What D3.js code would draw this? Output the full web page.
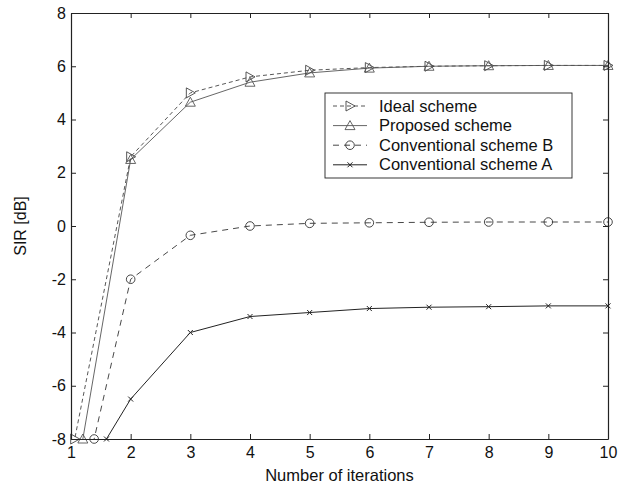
<!DOCTYPE html>
<html>
<head>
<meta charset="utf-8">
<script src="https://cdn.jsdelivr.net/npm/d3@7/dist/d3.min.js"></script>
<style>
body { margin:0; background:#fff; }
text { font-family:"Liberation Sans", Arial, sans-serif; fill:#111; }
</style>
</head>
<body>
<svg id="chart"></svg>
<script>
// iterations on the x axis
var iterations = [1,2,3,4,5,6,7,8,9,10];
// SIR values (first iteration falls below the axis)
var idealScheme = [-8.7, 2.6, 5.0, 5.6, 5.85, 5.95, 6.0, 6.02, 6.03, 6.03];
var proposedScheme = [-10.6, 2.5, 4.65, 5.4, 5.75, 5.93, 6.0, 6.02, 6.03, 6.03];
var conventionalB = [-11.8, -2.0, -0.35, 0.0, 0.1, 0.12, 0.14, 0.15, 0.15, 0.15];
var conventionalA = [-10.2, -6.5, -4.0, -3.4, -3.25, -3.1, -3.05, -3.03, -3.0, -3.0];
var xTicks = [1,2,3,4,5,6,7,8,9,10];
var yTicks = [-8,-6,-4,-2,0,2,4,6,8];
var legendNames = ["Ideal scheme","Proposed scheme","Conventional scheme B","Conventional scheme A"];

var screen = {width:638, height:488};
var margins = {top:13, bottom:49, left:71, right:30};
var graph = {
    width:screen.width-margins.left-margins.right,
    height:screen.height-margins.top-margins.bottom
};

//each series gets its own look
var series = [
    {name:legendNames[0], values:idealScheme, dash:"4,3", marker:"right", color:"#444", width:0.9},
    {name:legendNames[1], values:proposedScheme, dash:null, marker:"up", color:"#555", width:0.9},
    {name:legendNames[2], values:conventionalB, dash:"6,5", marker:"circle", color:"#333", width:0.9},
    {name:legendNames[3], values:conventionalA, dash:null, marker:"x", color:"#222", width:1}
];

var svg = d3.select("#chart")
    .attr("width",screen.width)
    .attr("height",screen.height);

var xScale = d3.scaleLinear().domain([1,10]).range([0,graph.width]);
var yScale = d3.scaleLinear().domain([-8,8]).range([graph.height,0]);

var g = svg.append("g")
    .attr("transform","translate("+margins.left+","+margins.top+")");

g.append("clipPath").attr("id","clip")
    .append("rect")
    .attr("width",graph.width)
    .attr("height",graph.height);

//draws a marker shape at a point
var drawMarker = function(sel, type, x, y, color)
{
    if (type == "right")
    {
        sel.append("path")
            .attr("d","M"+(x-4)+","+(y-5)+"L"+(x+5)+","+y+"L"+(x-4)+","+(y+5)+"Z")
            .attr("fill","none").attr("stroke",color).attr("stroke-width",0.9);
    }
    if (type == "up")
    {
        sel.append("path")
            .attr("d","M"+x+","+(y-5)+"L"+(x+5)+","+(y+4)+"L"+(x-5)+","+(y+4)+"Z")
            .attr("fill","none").attr("stroke",color).attr("stroke-width",0.9);
    }
    if (type == "circle")
    {
        sel.append("circle")
            .attr("cx",x).attr("cy",y).attr("r",4.3)
            .attr("fill","none").attr("stroke",color).attr("stroke-width",0.9);
    }
    if (type == "x")
    {
        sel.append("path")
            .attr("d","M"+(x-2.5)+","+(y-2.5)+"L"+(x+2.5)+","+(y+2.5)+"M"+(x-2.5)+","+(y+2.5)+"L"+(x+2.5)+","+(y-2.5))
            .attr("fill","none").attr("stroke",color).attr("stroke-width",1);
    }
}

//points that fall below the axis get their marker where the line crosses -8
var markerPoints = function(values)
{
    var pts = [];
    values.forEach(function(v,i)
    {
        if (v >= -8)
        {
            pts.push({x:iterations[i], y:v});
        }
        else if (i+1 < values.length && values[i+1] > -8)
        {
            var t = (-8 - v)/(values[i+1]-v);
            pts.push({x:iterations[i]+t*(iterations[i+1]-iterations[i]), y:-8});
        }
    });
    return pts;
}

var line = d3.line()
    .x(function(d,i){ return xScale(iterations[i]); })
    .y(function(d){ return yScale(d); });

var plot = g.append("g").attr("clip-path","url(#clip)");

series.forEach(function(s)
{
    plot.append("path")
        .datum(s.values)
        .attr("d",line)
        .attr("fill","none")
        .attr("stroke",s.color)
        .attr("stroke-width",s.width)
        .attr("stroke-dasharray",s.dash);
});

var marks = g.append("g");
series.forEach(function(s)
{
    markerPoints(s.values).forEach(function(p)
    {
        drawMarker(marks, s.marker, xScale(p.x), yScale(p.y), s.color);
    });
});

//plain hyphen minus like the original labels
var plainFormat = function(d){ return String(d); };

//axes with inward ticks on all four sides like matlab
var axes = g.append("g");
axes.append("g")
    .attr("transform","translate(0,"+graph.height+")")
    .call(d3.axisBottom(xScale).tickValues(xTicks).tickFormat(plainFormat).tickSizeInner(-5).tickSizeOuter(0).tickPadding(8));
axes.append("g")
    .call(d3.axisLeft(yScale).tickValues(yTicks).tickFormat(plainFormat).tickSizeInner(-5).tickSizeOuter(0).tickPadding(5));
axes.append("g")
    .call(d3.axisTop(xScale).tickValues(xTicks).tickSizeInner(-5).tickSizeOuter(0).tickFormat(""));
axes.append("g")
    .attr("transform","translate("+graph.width+",0)")
    .call(d3.axisRight(yScale).tickValues(yTicks).tickSizeInner(-5).tickSizeOuter(0).tickFormat(""));

axes.selectAll(".domain").attr("stroke","#222").attr("stroke-width",1.2);
axes.selectAll(".tick line").attr("stroke","#222");
axes.selectAll(".tick text")
    .style("font-family","Liberation Sans, Arial, sans-serif")
    .style("font-size","16px")
    .attr("fill","#111");

//axis titles
g.append("text")
    .attr("x",graph.width/2)
    .attr("y",graph.height+42)
    .attr("text-anchor","middle")
    .style("font-size","16.5px")
    .text("Number of iterations");

g.append("text")
    .attr("transform","translate(-45,"+(graph.height/2)+") rotate(-90)")
    .attr("text-anchor","middle")
    .style("font-size","16px")
    .text("SIR [dB]");

//legend box
var legend = svg.append("g").attr("transform","translate(325,93)");
legend.append("rect")
    .attr("width",247)
    .attr("height",85)
    .attr("fill","#fff")
    .attr("stroke","#222")
    .attr("stroke-width",0.9);

series.forEach(function(s,i)
{
    var y = 13 + i*19.6;
    legend.append("line")
        .attr("x1",8).attr("x2",42)
        .attr("y1",y).attr("y2",y)
        .attr("stroke",s.color)
        .attr("stroke-width",s.width)
        .attr("stroke-dasharray",s.dash);
    drawMarker(legend, s.marker, 25, y, s.color);
    legend.append("text")
        .attr("x",54)
        .attr("y",y+5.5)
        .style("font-size","16.5px")
        .text(s.name);
});
</script>
</body>
</html>
